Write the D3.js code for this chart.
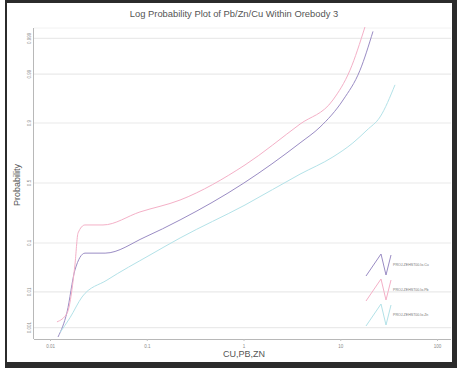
<!DOCTYPE html>
<html><head><meta charset="utf-8">
<script src="https://cdnjs.cloudflare.com/ajax/libs/d3/7.8.5/d3.min.js"></script>
<style>html,body{margin:0;padding:0;background:#fff;}svg{display:block;}</style>
</head><body><svg id="c" width="457" height="368"></svg>
<script>
const title = "Log Probability Plot of Pb/Zn/Cu Within Orebody 3";
const xTicks = [0.01, 0.1, 1, 10, 100];
const xTickLabels = ["0.01", "0.1", "1", "10", "100"];
const yTicks = [0.001, 0.01, 0.1, 0.5, 0.9, 0.99, 0.999];
const yTickLabels = ["0.001", "0.01", "0.1", "0.5", "0.9", "0.99", "0.999"];
const seriesNames = ["PROJ.ZEHST00.lo.Cu", "PROJ.ZEHST00.lo.Pb", "PROJ.ZEHST00.lo.Zn"];
const seriesColors = ["#9a8cc4", "#f4b0c7", "#b3e2e8"];
const cuValues = [0.0121, 0.015, 0.0181, 0.023, 0.0371, 0.096, 0.221, 1.01, 3.84, 6.18, 10.7, 16.0, 21.8];
const cuProb   = [0.0005, 0.0029, 0.0315, 0.067, 0.067, 0.124, 0.215, 0.5, 0.804, 0.884, 0.962, 0.992, 0.9994];
const pbValues = [0.0118, 0.015, 0.0181, 0.0195, 0.023, 0.0353, 0.085, 0.221, 1.036, 3.84, 8.4, 12.6, 18.0];
const pbProb   = [0.0015, 0.0027, 0.04, 0.143, 0.185, 0.185, 0.268, 0.358, 0.65, 0.896, 0.962, 0.992, 0.99957];
const znValues = [0.0127, 0.0161, 0.0214, 0.0388, 0.108, 0.221, 1.036, 3.84, 8.4, 13.5, 18.9, 25.8, 36.8];
const znProb   = [0.0007, 0.002, 0.0074, 0.019, 0.062, 0.12, 0.319, 0.575, 0.711, 0.804, 0.871, 0.921, 0.982];

function probit(p){
  const a=[-3.969683028665376e+01,2.209460984245205e+02,-2.759285104469687e+02,1.383577518672690e+02,-3.066479806614716e+01,2.506628277459239e+00];
  const b=[-5.447609879822406e+01,1.615858368580409e+02,-1.556989798598866e+02,6.680131188771972e+01,-1.328068155288572e+01];
  const c=[-7.784894002430293e-03,-3.223964580411365e-01,-2.400758277161838e+00,-2.549732539343734e+00,4.374664141464968e+00,2.938163982698783e+00];
  const d=[7.784695709041462e-03,3.224671290700398e-01,2.445134137142996e+00,3.754408661907416e+00];
  const pl=0.02425, ph=1-pl;
  let q,r;
  if(p<pl){q=Math.sqrt(-2*Math.log(p));return (((((c[0]*q+c[1])*q+c[2])*q+c[3])*q+c[4])*q+c[5])/((((d[0]*q+d[1])*q+d[2])*q+d[3])*q+1);}
  if(p<=ph){q=p-0.5;r=q*q;return (((((a[0]*r+a[1])*r+a[2])*r+a[3])*r+a[4])*r+a[5])*q/(((((b[0]*r+b[1])*r+b[2])*r+b[3])*r+b[4])*r+1);}
  q=Math.sqrt(-2*Math.log(1-p));return -(((((c[0]*q+c[1])*q+c[2])*q+c[3])*q+c[4])*q+c[5])/((((d[0]*q+d[1])*q+d[2])*q+d[3])*q+1);
}

const svg = d3.select("#c");
const font = "'Liberation Sans', Arial, sans-serif";
// frame
svg.append("rect").attr("x",0).attr("y",0).attr("width",457).attr("height",368).attr("fill","#2b2b2b");
svg.append("rect").attr("x",0).attr("y",0).attr("width",5).attr("height",368).attr("fill","#fff");
svg.append("rect").attr("x",7).attr("y",3).attr("width",445).attr("height",359).attr("fill","#fff");

const x = d3.scaleLog().domain([0.01, 100]).range([50, 437]);
const y = d3.scaleLinear().domain([0, 1]).range([183, 183 - 46.8]);
const yp = p => y(probit(p));
const pLeft = 34, pRight = 451, pTop = 28, pBottom = 339;

// gridlines
svg.append("g").selectAll("line").data(yTicks).join("line")
  .attr("x1", pLeft).attr("x2", pRight).attr("y1", d => yp(d)).attr("y2", d => yp(d))
  .attr("stroke", "#eaeaea").attr("stroke-width", 1.2);
svg.append("line").attr("x1",pLeft).attr("x2",pRight).attr("y1",pTop).attr("y2",pTop).attr("stroke","#f2f2f2");

// axes lines
svg.append("line").attr("x1",33.5).attr("x2",33.5).attr("y1",pTop).attr("y2",pBottom).attr("stroke","#b8b8b8");
svg.append("line").attr("x1",pLeft).attr("x2",pRight).attr("y1",pBottom+0.5).attr("y2",pBottom+0.5).attr("stroke","#b8b8b8");

// x ticks
const xg = svg.append("g").attr("transform", `translate(0,${pBottom})`)
  .call(d3.axisBottom(x).tickValues(xTicks).tickFormat((d,i)=>xTickLabels[i]).tickSize(2).tickSizeOuter(0));
xg.select(".domain").remove();
xg.selectAll("line").attr("stroke","#c0c0c0");
xg.selectAll("text").attr("fill","#8a8a8a").attr("font-size",4.5).attr("font-family",font).attr("dy","0.9em");

// y ticks
svg.append("g").selectAll("text").data(yTicks).join("text")
  .attr("transform", (d) => `translate(29.5,${yp(d)}) rotate(-90)`)
  .attr("text-anchor","middle").attr("dy","0.35em")
  .attr("font-size",4.5).attr("font-family",font).attr("fill","#8a8a8a")
  .text((d,i)=>yTickLabels[i]);

// lines
const series = [
  {v: cuValues, p: cuProb},
  {v: pbValues, p: pbProb},
  {v: znValues, p: znProb}
];
const line = d3.line().x(d=>x(d[0])).y(d=>yp(d[1])).curve(d3.curveMonotoneX);
series.forEach((s,i)=>{
  const pts = s.v.map((v,j)=>[v, s.p[j]]);
  svg.append("path").attr("d", line(pts)).attr("fill","none")
    .attr("stroke", seriesColors[i]).attr("stroke-width",1);
});

// legend
const leg = svg.append("g");
seriesNames.forEach((n,i)=>{
  const cy = 265 + i*25;
  const g = leg.append("g").attr("transform", `translate(366,${cy})`);
  const pts = [[0,11],[15,-11],[20,10],[25,-10]];
  g.append("path").attr("d", d3.line()(pts)).attr("fill","none")
    .attr("stroke", seriesColors[i]).attr("stroke-width",1);
  g.append("text").attr("x",27).attr("y",0).attr("dy","0.35em")
    .attr("font-size",3.6).attr("font-family",font).attr("fill","#777").text(n);
});

// titles
svg.append("text").attr("x",234).attr("y",17).attr("text-anchor","middle")
  .attr("font-size",9.4).attr("font-family",font).attr("fill","#555").text(title);
svg.append("text").attr("x",244).attr("y",357).attr("text-anchor","middle")
  .attr("font-size",9).attr("font-family",font).attr("fill","#555").text("CU,PB,ZN");
svg.append("text").attr("transform","translate(20,185) rotate(-90)").attr("text-anchor","middle")
  .attr("font-size",9).attr("font-family",font).attr("fill","#555").text("Probability");
</script></body></html>
